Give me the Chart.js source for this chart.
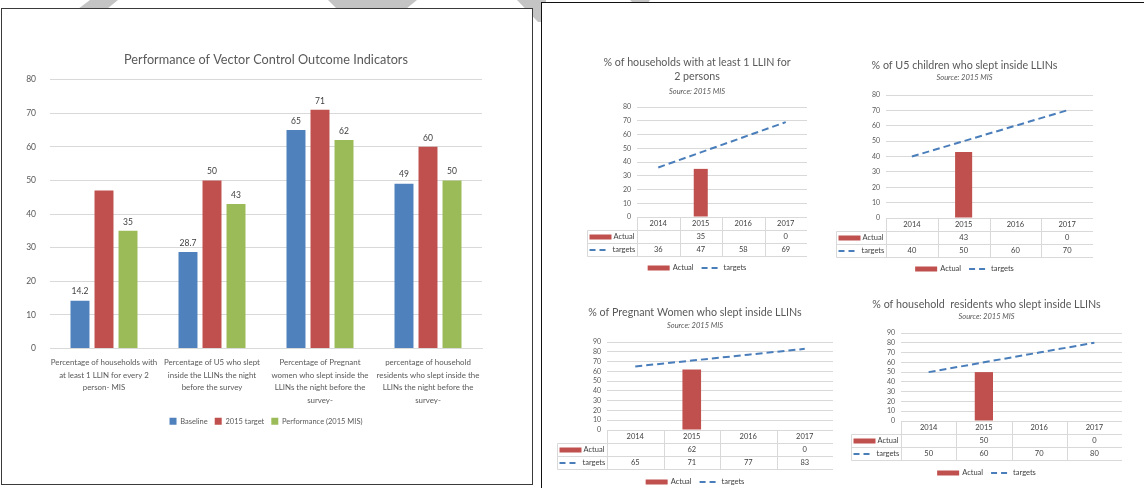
<!DOCTYPE html>
<html>
<head>
<meta charset="utf-8">
<script src="https://cdn.jsdelivr.net/npm/chart.js@4.4.0/dist/chart.umd.min.js"></script>
<style>
  body { margin: 0; width: 1144px; height: 488px; overflow: hidden; position: relative; background: #fff; font-family: Lato, sans-serif; }
  #marks { position: absolute; left: 0; top: 0; }
  .panel { position: absolute; background: #fff; }
  #leftPanel { left: 1px; top: 8px; width: 530px; height: 475px; border: 1.5px solid #3a3a3a; }
  #rightPanel { left: 541px; top: 2px; width: 620px; height: 500px; border: 1px solid #111; }
  canvas { position: absolute; }
</style>
</head>
<body>
<svg id="marks" width="1144" height="30">
  <polygon points="90,0 118,0 107,9 78,9" fill="#c4c4c4"/>
  <polygon points="328,0 417,0 406,9 337,9" fill="#c4c4c4"/>
  <polygon points="517,0 546,0 546,22 538,22" fill="#c4c4c4"/>
  <polygon points="630,0 650,0 648,3 633,3" fill="#c4c4c4"/>
</svg>
<div class="panel" id="leftPanel"></div>
<div class="panel" id="rightPanel"></div>

<canvas id="mainChart" width="530" height="476" style="left:2px;top:9px"></canvas>
<canvas id="hhChart" width="220" height="224" style="left:587px;top:52px"></canvas>
<canvas id="u5Chart" width="257" height="222" style="left:836px;top:55px"></canvas>
<canvas id="pwChart" width="276" height="188" style="left:557px;top:302px"></canvas>
<canvas id="resChart" width="271" height="187" style="left:851px;top:294px"></canvas>

<script>
// Main chart data
const indicators = [
  ["Percentage of households with", "at least 1 LLIN for every 2", "person- MIS"],
  ["Percentage of U5 who slept", "inside the LLINs the night", "before the survey"],
  ["Percentage of Pregnant", "women who slept inside the", "LLINs the night before the", "survey-"],
  ["percentage of household", "residents who slept inside the", "LLINs the night before the", "survey-"]
];
const baseline = [14.2, 28.7, 65, 49];
const target2015 = [47, 50, 71, 60];
const performance = [35, 43, 62, 50];
// value labels that the original leaves out: [dataset, index]
const hiddenValueLabels = [[1, 0]];

// Small charts data
const years = ["2014", "2015", "2016", "2017"];
const hhActual = [null, 35, null, 0];
const hhTargets = [36, 47, 58, 69];
const u5Actual = [null, 43, null, 0];
const u5Targets = [40, 50, 60, 70];
const pwActual = [null, 62, null, 0];
const pwTargets = [65, 71, 77, 83];
const resActual = [null, 50, null, 0];
const resTargets = [50, 60, 70, 80];

const sourceNote = "Source: 2015 MIS";

const BLUE = "#4f81bd", RED = "#c0504d", GREEN = "#9bbb59", LINE_BLUE = "#4a7ebb";
const TEXT = "#595959", GRID = "#d9d9d9";

Chart.defaults.font.family = "Lato, sans-serif";
Chart.defaults.color = TEXT;

// Value labels above bars
const valueLabels = {
  id: "valueLabels",
  afterDatasetsDraw(chart) {
    const ctx = chart.ctx;
    ctx.save();
    ctx.font = "8.5px Lato, sans-serif";
    ctx.fillStyle = "#404040";
    ctx.textAlign = "center";
    ctx.textBaseline = "middle";
    chart.data.datasets.forEach((ds, di) => {
      chart.getDatasetMeta(di).data.forEach((bar, i) => {
        if (hiddenValueLabels.some(h => h[0] === di && h[1] === i)) return;
        ctx.fillText(String(ds.data[i]), bar.x, bar.y - 9);
      });
    });
    ctx.restore();
  }
};

new Chart(document.getElementById("mainChart"), {
  type: "bar",
  data: {
    labels: indicators,
    datasets: [
      { label: "Baseline", data: baseline, backgroundColor: BLUE },
      { label: "2015 target", data: target2015, backgroundColor: RED },
      { label: "Performance (2015 MIS)", data: performance, backgroundColor: GREEN }
    ]
  },
  options: {
    responsive: false,
    animation: false,
    layout: { padding: { left: 8, right: 50, top: 0, bottom: 50 } },
    datasets: { bar: { categoryPercentage: 0.667, barPercentage: 0.79 } },
    scales: {
      x: {
        grid: { display: false, drawTicks: false },
        border: { color: GRID },
        ticks: { color: TEXT, font: { size: 7.9, lineHeight: "12.5px" }, padding: 7.75, maxRotation: 0, autoSkip: false },
        afterFit(s) { s.height = 62; }
      },
      y: {
        min: 0, max: 80,
        ticks: { stepSize: 10, color: TEXT, font: { size: 8.5 }, padding: 14 },
        grid: { color: GRID, drawTicks: false },
        border: { display: false },
        afterFit(s) { s.width = 40; }
      }
    },
    plugins: {
      title: {
        display: true, fullSize: false,
        text: "Performance of Vector Control Outcome Indicators",
        color: TEXT, font: { size: 12.7, weight: "normal" },
        padding: { top: 43.5, bottom: 11.8 }
      },
      legend: {
        position: "bottom", fullSize: false,
        labels: { boxWidth: 7, boxHeight: 7, color: TEXT, font: { size: 7.5 }, padding: 7 }
      },
      tooltip: { enabled: false }
    }
  },
  plugins: [valueLabels]
});

// Data table + legend under the small charts
const dataTable = {
  id: "dataTable",
  afterDraw(chart, args, opts) {
    const { ctx, chartArea: a, scales: { x } } = chart;
    const rowH = 13, keyW = 50;
    const n = chart.data.labels.length;
    const colW = (a.right - a.left) / n;
    const top = Math.round(a.bottom) + 0.5;
    const left = Math.round(a.left - keyW) + 0.5;
    const right = Math.round(a.right) + 0.5;
    const [barDs, lineDs] = chart.data.datasets;
    ctx.save();
    ctx.strokeStyle = GRID;
    ctx.lineWidth = 1;
    ctx.beginPath();
    ctx.moveTo(Math.round(a.left) + 0.5, top); ctx.lineTo(right, top);
    for (let r = 1; r <= 3; r++) { ctx.moveTo(left, top + r * rowH); ctx.lineTo(right, top + r * rowH); }
    ctx.moveTo(left, top + rowH); ctx.lineTo(left, top + 3 * rowH);
    for (let i = 0; i <= n; i++) {
      const cx = Math.round(a.left + i * colW) + 0.5;
      ctx.moveTo(cx, top); ctx.lineTo(cx, top + 3 * rowH);
    }
    ctx.stroke();

    ctx.font = "7.5px Lato, sans-serif";
    ctx.fillStyle = "#404040";
    ctx.textAlign = "center";
    ctx.textBaseline = "middle";
    chart.data.labels.forEach((lab, i) => {
      const cx = x.getPixelForValue(i);
      ctx.fillText(lab, cx, top + rowH / 2);
      if (barDs.data[i] !== null) ctx.fillText(String(barDs.data[i]), cx, top + rowH * 1.5);
      ctx.fillText(String(lineDs.data[i]), cx, top + rowH * 2.5);
    });

    // series keys in the table
    const drawBarKey = (kx, ky) => { ctx.fillStyle = RED; ctx.fillRect(kx, ky - 2.5, 22, 5); };
    const drawLineKey = (kx, ky, w) => {
      ctx.save();
      ctx.strokeStyle = LINE_BLUE; ctx.lineWidth = 2; ctx.setLineDash([6, 4]);
      ctx.beginPath(); ctx.moveTo(kx, ky); ctx.lineTo(kx + w, ky); ctx.stroke();
      ctx.restore();
    };
    ctx.textAlign = "left";
    drawBarKey(left + 2, top + rowH * 1.5);
    ctx.fillStyle = "#404040";
    ctx.fillText(barDs.label, left + 26, top + rowH * 1.5);
    drawLineKey(left + 2, top + rowH * 2.5, 20);
    ctx.fillStyle = "#404040";
    ctx.fillText(lineDs.label, left + 25, top + rowH * 2.5);

    // legend below the table
    const ly = a.bottom + opts.legendOffset;
    const w1 = ctx.measureText(barDs.label).width, w2 = ctx.measureText(lineDs.label).width;
    const total = 22 + 3 + w1 + 8 + 19 + 3 + w2;
    let lx = chart.width / 2 - total / 2;
    drawBarKey(lx, ly);
    ctx.fillStyle = "#404040";
    ctx.fillText(barDs.label, lx + 25, ly);
    lx += 25 + w1 + 8;
    drawLineKey(lx, ly, 19);
    ctx.fillStyle = "#404040";
    ctx.fillText(lineDs.label, lx + 22, ly);
    ctx.restore();
  }
};

function miniChart(id, titleText, actual, targets, yMax, lay) {
  return new Chart(document.getElementById(id), {
    data: {
      labels: years,
      datasets: [
        { type: "bar", label: "Actual", data: actual, backgroundColor: RED, barPercentage: 0.33, categoryPercentage: 1, order: 2 },
        { type: "line", label: "targets", data: targets, borderColor: LINE_BLUE, borderWidth: 2, borderDash: [7, 4], pointRadius: 0, fill: false, order: 1 }
      ]
    },
    options: {
      responsive: false,
      animation: false,
      layout: { padding: 0 },
      scales: {
        x: {
          grid: { display: false, drawTicks: false },
          border: { display: false },
          ticks: { display: false },
          afterFit(s) { s.height = lay.xH; }
        },
        y: {
          min: 0, max: yMax,
          ticks: { stepSize: 10, autoSkip: false, color: TEXT, font: { size: 7, lineHeight: 1 }, padding: 6 },
          grid: { color: GRID, drawTicks: false },
          border: { display: false },
          afterFit(s) { s.width = 50; }
        }
      },
      plugins: {
        title: {
          display: true, text: titleText, color: TEXT,
          font: { size: 10.7, weight: "normal", lineHeight: "14px" },
          padding: { top: 4, bottom: 0 }
        },
        subtitle: {
          display: true, text: sourceNote, color: TEXT,
          font: { size: 7.5, style: "italic", lineHeight: "10px" },
          padding: { top: lay.subTop, bottom: lay.subBottom }
        },
        legend: { display: false },
        tooltip: { enabled: false },
        dataTable: { legendOffset: lay.legendOffset }
      }
    },
    plugins: [dataTable]
  });
}

miniChart("hhChart", ["% of households with at least 1 LLIN for", "2 persons"], hhActual, hhTargets, 80,
  { xH: 59, subTop: 3, subBottom: 10, legendOffset: 51 });
miniChart("u5Chart", "% of U5 children who slept inside LLINs", u5Actual, u5Targets, 80,
  { xH: 59, subTop: 0, subBottom: 12, legendOffset: 51 });
miniChart("pwChart", "% of Pregnant Women who slept inside LLINs", pwActual, pwTargets, 90,
  { xH: 60, subTop: 1, subBottom: 11, legendOffset: 52 });
miniChart("resChart", "% of household  residents who slept inside LLINs", resActual, resTargets, 90,
  { xH: 60, subTop: 0, subBottom: 11, legendOffset: 52 });
</script>
</body>
</html>
